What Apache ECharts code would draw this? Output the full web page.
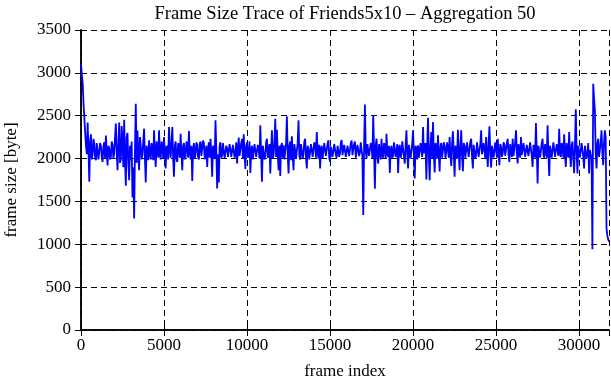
<!DOCTYPE html>
<html>
<head>
<meta charset="utf-8">
<script src="https://cdn.jsdelivr.net/npm/echarts@6/dist/echarts.min.js"></script>
<style>
html,body{margin:0;padding:0;background:#fff;}
#c{width:611px;height:380px;}
</style>
</head>
<body>
<div id="c"></div>
<script>
// Chart text
const titleText = "Frame Size Trace of Friends5x10 \u2013 Aggregation 50";
const xName = "frame index";
const yName = "frame size [byte]";

// Axis ticks
const xTicks = [0, 5000, 10000, 15000, 20000, 25000, 30000];
const yTicks = [0, 500, 1000, 1500, 2000, 2500, 3000, 3500];
const xMax = 31800;

// Frame index step between plotted (aggregated) samples
const frameStep = 50;

// Frame sizes [byte], one per 50 frames
const sizes0 = [
  3100,2980,2880,2650,2480,2300,2150,2050,2420,2100,1730,2200,2283,1990,2050,2230,2180,2010,1980,2180,
  2200,1990,2010,2180,2150,2020,1960,2140,2190,2000,2270,2060,1920,2150,2120,1990,2020,2200,2160,2000,
  2060,2250,2410,2080,1864,2150,2420,1950,1990,2380,2200,1900,2453,2000,1682,2250,2300,1950,1748,2150,
  1980,2200,1546,1900,1302,2100,2640,1950,2328,2050,1864,2250,2150,1990,2040,2200,2349,2000,1721,2150,
  2090,1980,2213,2050,1990,2180,2120,1980,2329,2060,1903,2200,2180,2010,2330,2050,1990,2200,2150,2000,
  2250,2050,1885,2150,2120,1990,2368,2100,2010,2200,2368,2000,1787,2150,2200,1990,1960,2180,2140,2010,
  2290,2050,1864,2150,2180,1990,2030,2200,2150,2010,2321,2080,1990,2150,1740,2100,2180,2000,2050,2190,
  2160,2020,1990,2170,2200,2030,2050,2210,2180,1990,2000,2150,1903,2100,2190,2010,2232,2050,1787,2150,
  2120,2000,2446,2100,1651,2050,1720,2150,2190,2010,2040,2180,2160,2000,1990,2150,2120,2020,2030,2170,
  2170,2020,2000,2160,2150,2010,2060,2190,1942,2100,2244,2030,2010,2180,2230,2000,2283,2050,1880,2150];
const sizes1 = [
  2190,2010,2050,2200,1833,2100,2150,1990,2010,2170,2180,2020,2000,2160,2120,2000,2388,2050,1729,2150,
  2150,1990,2030,2190,2232,2010,2050,2170,1826,2100,2329,2000,2040,2200,2465,2020,2337,2050,1864,2150,
  1798,2150,2180,2010,2155,1990,2000,2180,2492,2050,1826,2150,2200,1980,2260,2040,1864,2170,2150,2000,
  2020,2180,2446,2030,1990,2170,2150,2000,2050,2200,2232,2020,1884,2150,2100,1990,2010,2170,2193,2020,
  2030,2190,2160,2010,2310,2080,2000,2160,1884,2120,2150,2000,2020,2180,2190,2030,2040,2170,2213,2010,
  1961,2140,2150,2020,2030,2170,2190,2040,2010,2150,2160,2020,2060,2190,2215,2040,2030,2160,2170,2020,
  2000,2150,2140,2030,2050,2180,2210,2040,2030,2170,2200,2010,2000,2160,2160,2030,2070,2190,2100,2020,
  1341,2150,2632,2080,2000,2170,2193,2030,2050,2180,2150,2000,2504,2100,1647,2150,2232,2020,1942,2170,
  2150,1990,2232,2040,2010,2180,2140,2000,2290,2060,2020,2150,1833,2100,2150,2010,2040,2190,2180,2020,
  2010,2170,1833,2120,2160,2010,2050,2200,2190,2030,1942,2150,2329,2050,1884,2160,2150,2000,1980,2180];
const sizes2 = [
  2330,2020,1767,2150,2120,1990,2155,2010,2000,2180,2170,2020,2368,2060,2040,2180,1756,2150,2477,2030,
  1748,2150,2310,2000,2426,2050,1837,2180,2150,2000,2271,2040,1849,2150,2180,2010,2020,2190,2150,2000,
  2010,2190,2170,2010,2252,2040,1915,2180,2318,2050,1787,2150,2150,2000,2337,2060,1864,2150,2329,2030,
  1853,2180,2150,2010,2030,2190,2180,2020,2040,2200,2232,2030,1884,2160,2150,2000,2050,2190,2170,2020,
  2010,2170,2329,2050,2040,2180,2160,2000,2252,2060,1903,2180,2376,2050,1895,2150,2160,2010,2030,2190,
  2180,2010,2232,2040,1923,2170,2140,2020,2060,2190,2160,2030,2030,2180,2232,2040,1961,2170,2150,2020,
  2232,2030,2040,2190,2329,2060,1942,2170,2150,2010,2252,2040,2020,2180,2170,2020,2010,2160,2180,2030,
  2050,2190,2193,2030,1903,2160,2150,2010,2415,2080,1709,2150,2140,2010,2030,2180,2232,2040,2010,2170,
  2160,2010,2388,2060,1798,2150,2150,2010,2030,2190,2200,2020,2020,2170,2180,2030,2349,2060,2020,2180,
  2150,2010,2283,2050,1903,2180,2170,2010,2310,2060,1903,2150,2200,2000,1830,2150,2574,2080,1826,2150];
const sizes3 = [
  2150,2010,2030,2180,2190,2020,1884,2150,2150,2010,2040,2180,1826,2100,2120,2000,942,2872,2700,2562,
  2050,1884,2170,2232,2020,2030,2190,2329,2060,1923,2180,2329,2250,1186,1100,1060,1030];

const sizes = sizes0.concat(sizes1, sizes2, sizes3);
const points = sizes.map((v, i) => [i * frameStep, v]);

const FONT = "Liberation Serif";
const chart = echarts.init(document.getElementById('c'), null, {renderer: 'canvas'});

const gridDash = {type: [6, 4], color: '#000', width: 1};
const axisLineStyle = {color: '#000', width: 1.5};
const tickStyle = {color: '#000', width: 1};

chart.setOption({
  animation: false,
  backgroundColor: '#fff',
  title: {
    text: titleText,
    left: 340, top: 0, textAlign: 'center',
    textStyle: {fontFamily: FONT, fontSize: 18.5, fontWeight: 'normal', color: '#000'}
  },
  grid: {left: 81, right: 2, top: 30, bottom: 50, containLabel: false, outerBoundsMode: 'none'},
  xAxis: [{
    type: 'value', min: 0, max: xMax, interval: 5000,
    name: xName, nameLocation: 'middle', nameGap: 33,
    nameTextStyle: {fontFamily: FONT, fontSize: 17, color: '#000'},
    axisLine: {show: true, lineStyle: axisLineStyle},
    axisTick: {show: true, inside: true, length: 6, lineStyle: tickStyle},
    axisLabel: {fontFamily: FONT, fontSize: 17, color: '#000', margin: 7, showMaxLabel: false,
      formatter: v => xTicks.includes(v) ? String(v) : ''},
    splitLine: {show: true, lineStyle: gridDash}
  }, {
    type: 'value', min: 0, max: xMax, interval: 5000, position: 'top',
    axisLine: {show: true, lineStyle: axisLineStyle},
    axisTick: {show: true, inside: true, length: 6, lineStyle: tickStyle},
    axisLabel: {show: false}, splitLine: {show: false}
  }],
  yAxis: [{
    type: 'value', min: 0, max: 3500, interval: 500,
    name: yName, nameLocation: 'middle', nameGap: 61, nameRotate: 90,
    nameTextStyle: {fontFamily: FONT, fontSize: 17, color: '#000'},
    axisLine: {show: true, lineStyle: axisLineStyle},
    axisTick: {show: true, inside: true, length: 6, lineStyle: tickStyle},
    axisLabel: {fontFamily: FONT, fontSize: 17, color: '#000', margin: 10,
      formatter: v => yTicks.includes(v) ? String(v) : ''},
    splitLine: {show: true, lineStyle: gridDash}
  }, {
    type: 'value', min: 0, max: 3500, interval: 500, position: 'right',
    axisLine: {show: true, lineStyle: axisLineStyle},
    axisTick: {show: true, inside: true, length: 6, lineStyle: tickStyle},
    axisLabel: {show: false}, splitLine: {show: false}
  }],
  series: [{
    type: 'line',
    data: points,
    xAxisIndex: 0, yAxisIndex: 0,
    showSymbol: false,
    lineStyle: {color: '#0000ff', width: 1.8},
    itemStyle: {color: '#0000ff'},
    z: 3
  }]
});
</script>
</body>
</html>
